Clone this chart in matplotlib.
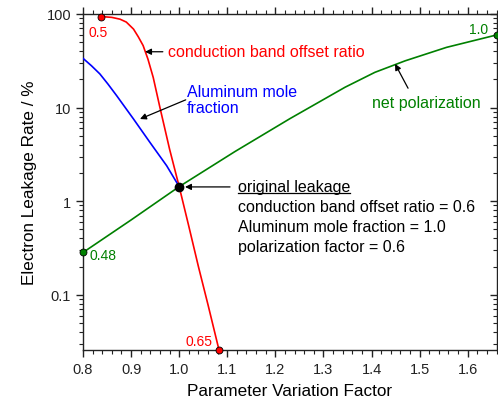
import numpy as np
import matplotlib
matplotlib.use('Agg')
import matplotlib.pyplot as plt
from matplotlib.ticker import MultipleLocator, LogLocator, FixedLocator, FixedFormatter, NullFormatter
from matplotlib.lines import Line2D

plt.rcParams['font.family'] = ['Liberation Sans', 'DejaVu Sans']

# conduction band offset ratio (red)
cbo_x = [0.837, 0.86, 0.877, 0.89, 0.905, 0.915, 0.925, 0.935, 0.946, 0.96, 0.98, 1.0, 1.02, 1.04, 1.06, 1.083]
cbo_y = [94, 92, 88, 82, 69, 57, 46, 33, 21, 10, 3.6, 1.43, 0.54, 0.2, 0.078, 0.0255]

# aluminum mole fraction (blue)
al_x = [0.8, 0.8175, 0.835, 0.852, 0.87, 0.905, 0.939, 0.974, 1.0]
al_y = [33.6, 28, 22.9, 17.8, 13.4, 7.55, 4.26, 2.39, 1.43]

# net polarization (green)
pol_x = [0.8, 0.9, 1.0, 1.116, 1.23, 1.345, 1.407, 1.47, 1.556, 1.66]
pol_y = [0.283, 0.63, 1.43, 3.39, 7.6, 16.5, 23.8, 31.6, 44, 59.7]

ytick_vals = [0.1, 1, 10, 100]
ytick_labels = ['0.1', '1', '10', '100']
xtick_vals = [0.8, 0.9, 1.0, 1.1, 1.2, 1.3, 1.4, 1.5, 1.6]
xtick_labels = ['0.8', '0.9', '1.0', '1.1', '1.2', '1.3', '1.4', '1.5', '1.6']

RED = '#ff0000'
BLUE = '#0000ff'
GREEN = '#008000'

fig = plt.figure(figsize=(4.98, 4.02), dpi=100)
ax = fig.add_axes([0.1667, 0.1269, 0.8313, 0.8358])

ax.set_yscale('log')
ax.set_xlim(0.8, 1.661)
ax.set_ylim(0.0257, 100)

ax.plot(cbo_x, cbo_y, color=RED, lw=1.2, zorder=3)
ax.plot(al_x, al_y, color=BLUE, lw=1.2, zorder=3)
ax.plot(pol_x, pol_y, color=GREEN, lw=1.2, zorder=3)

# end markers
ax.plot([cbo_x[0], cbo_x[-1]], [cbo_y[0], cbo_y[-1]], 'o', color=RED, mec='black', mew=0.6, ms=5, clip_on=False, zorder=5)
ax.plot([pol_x[0], pol_x[-1]], [pol_y[0], pol_y[-1]], 'o', color=GREEN, mec='black', mew=0.6, ms=5, clip_on=False, zorder=5)
ax.plot([1.0], [1.43], 'o', color='black', ms=6, zorder=6)

# ticks
ax.yaxis.set_major_locator(FixedLocator(ytick_vals))
ax.yaxis.set_major_formatter(FixedFormatter(ytick_labels))
ax.yaxis.set_minor_locator(LogLocator(base=10, subs=np.arange(2, 10), numticks=20))
ax.yaxis.set_minor_formatter(NullFormatter())
ax.xaxis.set_major_locator(FixedLocator(xtick_vals))
ax.xaxis.set_major_formatter(FixedFormatter(xtick_labels))
ax.xaxis.set_minor_locator(MultipleLocator(0.02))

ax.tick_params(which='both', direction='out', top=True, right=True, labelsize=10.5, colors='#222222')
ax.tick_params(which='major', length=5, width=1)
ax.tick_params(which='minor', length=3, width=0.8)
# top/right ticks inward
for t in ax.xaxis.get_major_ticks() + ax.xaxis.get_minor_ticks():
    t.tick2line.set_marker(3)
for t in ax.yaxis.get_major_ticks() + ax.yaxis.get_minor_ticks():
    t.tick2line.set_marker(0)
ax.tick_params(axis='x', which='both', pad=4)

for s in ax.spines.values():
    s.set_linewidth(1.0)
    s.set_color('#222222')

ax.set_xlabel('Parameter Variation Factor', fontsize=12.3, labelpad=5)
ax.set_ylabel('Electron Leakage Rate / %', fontsize=12.3, labelpad=7)

fs = 11.5
arrow = dict(arrowstyle='-|>', color='black', lw=0.9, mutation_scale=9, shrinkA=0, shrinkB=0)

ax.text(0.831, 64.2, '0.5', color=RED, fontsize=10, ha='center', va='center')
ax.text(1.042, 0.032, '0.65', color=RED, fontsize=10, ha='center', va='center')
ax.text(0.8125, 0.266, '0.48', color=GREEN, fontsize=10, ha='left', va='center')
ax.text(1.623, 69.2, '1.0', color=GREEN, fontsize=10, ha='center', va='center')

ax.annotate('', xy=(0.929, 39.5), xytext=(0.966, 39.5), arrowprops=arrow)
ax.text(0.977, 39.5, 'conduction band offset ratio', color=RED, fontsize=fs, ha='left', va='center')

ax.annotate('', xy=(0.9185, 7.55), xytext=(1.0136, 12.1), arrowprops=arrow)
ax.text(1.016, 12.2, 'Aluminum mole\nfraction', color=BLUE, fontsize=fs, ha='left', va='center', linespacing=1.15)

ax.annotate('', xy=(1.449, 29.3), xytext=(1.476, 16.1), arrowprops=arrow)
ax.text(1.401, 11.2, 'net polarization', color=GREEN, fontsize=fs, ha='left', va='center')

ax.annotate('', xy=(1.0121, 1.42), xytext=(1.1057, 1.42), arrowprops=arrow)
t_orig = ax.text(1.1223, 1.42, 'original leakage', color='black', fontsize=fs, ha='left', va='center')
ax.text(1.1223, 0.867, 'conduction band offset ratio = 0.6', color='black', fontsize=fs, ha='left', va='center')
ax.text(1.1223, 0.530, 'Aluminum mole fraction = 1.0', color='black', fontsize=fs, ha='left', va='center')
ax.text(1.1223, 0.324, 'polarization factor = 0.6', color='black', fontsize=fs, ha='left', va='center')

# underline for "original leakage"
fig.canvas.draw()
bb = t_orig.get_window_extent(renderer=fig.canvas.get_renderer())
inv = fig.transFigure.inverted()
(x0, y0) = inv.transform((bb.x0, bb.y0 + 1))
(x1, _) = inv.transform((bb.x1, bb.y0 + 1))
fig.add_artist(Line2D([x0, x1], [y0, y0], color='black', lw=0.9, transform=fig.transFigure))

fig.savefig('out.png', dpi=100)
